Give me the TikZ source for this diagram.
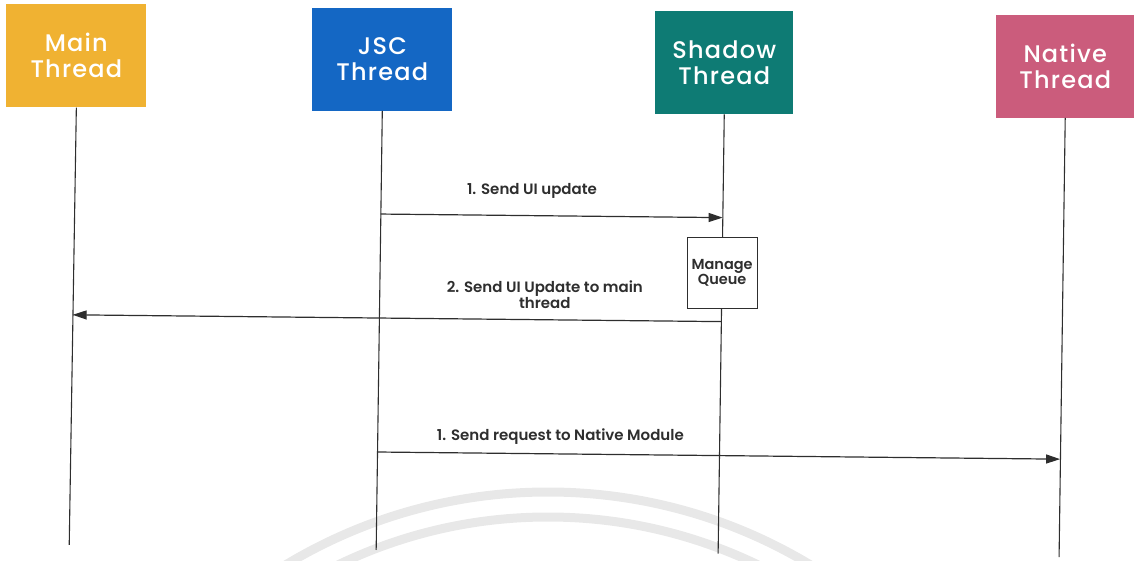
\documentclass[tikz,border=0pt]{standalone}
\usepackage{fontspec}
\setmainfont{Poppins}
\newfontfamily\titlefont{Poppins Medium}[LetterSpace=5]
\newfontfamily\lblfont{Poppins SemiBold}
\usetikzlibrary{arrows.meta}
\definecolor{mainc}{HTML}{F0B232}
\definecolor{jscc}{HTML}{1467C4}
\definecolor{shadc}{HTML}{0E7B74}
\definecolor{natc}{HTML}{CB5C7C}
\definecolor{linec}{HTML}{2E2E2E}
\definecolor{wmark}{HTML}{E8E8E8}
\begin{document}
\begin{tikzpicture}[x=1pt,y=-1pt,
  thread/.style={minimum width=140pt,minimum height=103pt,inner sep=0pt,text=white,
    font=\fontsize{24}{26}\titlefont,align=center},
  life/.style={line width=1.1pt,draw=linec},
  msg/.style={line width=1.2pt,draw=linec,-{Triangle[length=14pt,width=9pt]}},
  lbl/.style={font=\fontsize{15}{14}\lblfont,align=center,text=linec,inner sep=0pt},
  qbox/.style={draw=linec,fill=white,line width=1.1pt,minimum width=70pt,minimum height=71pt,
    inner sep=0pt,align=center,font=\fontsize{14.5}{15}\lblfont,text=linec}]
\useasboundingbox (0,0) rectangle (1134,561);
\begin{scope}
  \clip (0,0) rectangle (1134,561);
  \draw[wmark,line width=9pt] (548,1000) circle[radius=508];
  \draw[wmark,line width=9pt] (548,1000) circle[radius=483];
\end{scope}
\begin{scope}[rotate around={-0.6:(567,280)}]
  \node[thread,fill=mainc] (main) at (74,61) {Main\\Thread};
  \node[thread,fill=jscc] (jsc) at (380,61) {JSC\\Thread};
  \node[thread,fill=shadc,minimum width=138pt] (shadow) at (722,61) {Shadow\\Thread};
  \node[thread,fill=natc,minimum width=138pt] (native) at (1063,61) {Native\\Thread};
  \coordinate (mainEnd) at (72,550);
  \coordinate (jscEnd) at (379,552);
  \coordinate (shadowEnd) at (721,552);
  \coordinate (nativeEnd) at (1062,552);
  \draw[life] (main.south) -- (mainEnd);
  \draw[life] (jsc.south) -- (jscEnd);
  \draw[life] (shadow.south) -- (shadowEnd);
  \draw[life] (native.south) -- (nativeEnd);
  \node[qbox] (queue) at (722,271) {Manage\\Queue};
  \coordinate (m1s) at (380,216);
  \coordinate (m1e) at (722,216);
  \coordinate (m2s) at (722,320);
  \coordinate (m2e) at (73,320);
  \coordinate (m3s) at (379,454);
  \coordinate (m3e) at (1062,454);
  \draw[msg] (m1s) -- (m1e);
  \draw[msg] (m2s) -- (m2e);
  \draw[msg] (m3s) -- (m3e);
  \node[lbl] (l1) at (531,191) {1. Send UI update};
  \node[lbl] (l2) at (545,295) {2. Send UI Update to main\\thread};
  \node[lbl] (l3) at (562,437) {1. Send request to Native Module};
\end{scope}
\end{tikzpicture}
\end{document}
